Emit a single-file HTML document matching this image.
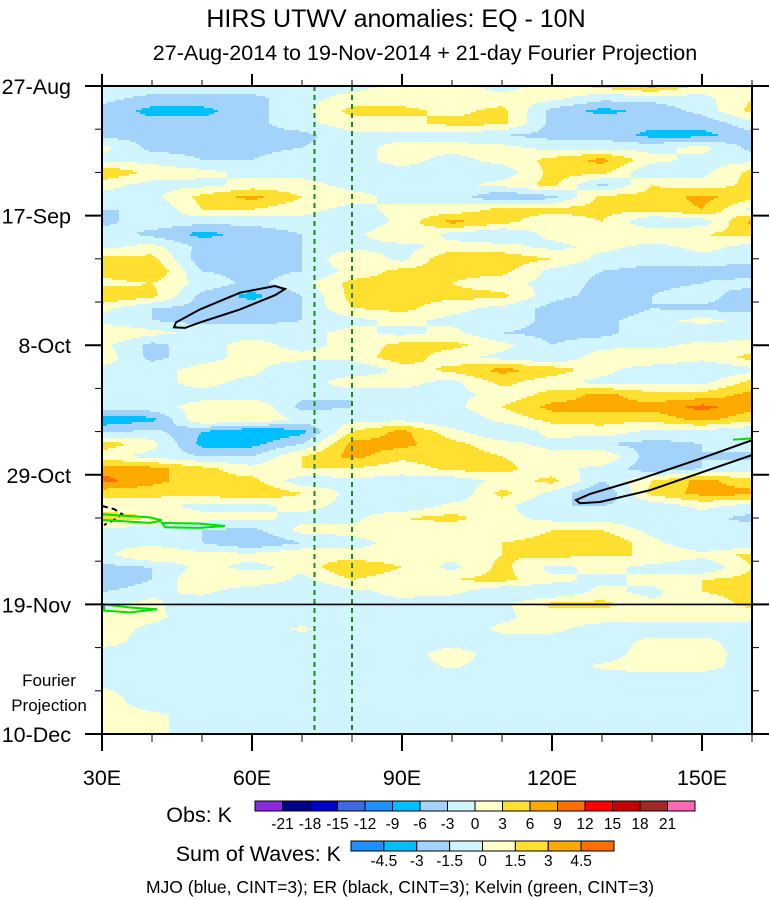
<!DOCTYPE html>
<html><head><meta charset="utf-8"><style>
html,body{margin:0;padding:0;background:#fff;}
svg{display:block;font-family:"Liberation Sans",sans-serif;}
</style></head><body>
<svg id="chart" width="770" height="900" viewBox="0 0 770 900">
<text x="396" y="27" font-size="25" text-anchor="middle">HIRS UTWV anomalies: EQ - 10N</text>
<text x="425" y="60" font-size="21.5" text-anchor="middle">27-Aug-2014 to 19-Nov-2014 + 21-day Fourier Projection</text>
<g id="field"></g>
<g id="overlays"></g>
<g id="axes"></g>
<g id="legend"></g>
<text x="400" y="893" font-size="17.5" text-anchor="middle">MJO (blue, CINT=3); ER (black, CINT=3); Kelvin (green, CINT=3)</text>
</svg>
<script>
const lons=[30,40,50,60,70,80,90,100,110,120,130,140,150,160];
const days=[];for(let i=0;i<=104;i+=2)days.push(i);
const anom=[
[-1,-1,-1,-1,-1,-1,1,1,-1,1,4,7,2,-1],
[-2,-4,-4,-4,-1,1,1,1,1,1,-2,-2,-1,3],
[-4,-7,-7,-4,-1,4,4,2,4,-4,-7,-5,-2,4],
[-4,-5,-5,-4,-1,2,2,4,4,-4,-4,-5,-5,-1],
[-4,-4,-4,-4,-4,-1,-1,-1,-3,-4,-4,-7,-7,-4],
[1,-4,-4,-4,-3,-1,1,1,1,-1,-1,-1,1,-4],
[-1,-1,-3,-3,-1,-1,1,-1,1,4,7,1,-1,-1],
[6,2,1,-1,-1,-1,-1,-1,-2,4,4,-3,-1,4],
[1,-1,-1,1,1,-1,-1,-1,1,4,-4,3,1,4],
[-1,-1,4,7,3,1,-1,-1,-6,-4,4,4,7,4],
[-3,-3,3,3,1,-1,1,1,4,4,4,4,6,-1],
[-4,-1,-2,-2,-1,-3,1,7,4,1,3,-3,-2,7],
[-1,-4,-7,-5,-3,-1,3,-1,-3,1,3,3,3,4],
[-1,1,-4,-4,-3,-1,-1,1,1,-1,1,-1,1,-1],
[4,4,-5,-4,-3,3,-1,6,5,3,-1,-2,-1,-1],
[4,6,-3,-4,-3,1,4,4,4,-1,-3,-4,-4,-6],
[2,3,-1,-4,-1,4,4,3,1,-1,-4,-4,-3,-1],
[6,4,-4,-7,-3,4,4,4,4,-2,-4,-3,-1,-6],
[1,-3,-4,-4,-3,3,4,1,-1,-4,-6,-3,-4,-4],
[-1,-3,-4,-4,-3,-1,1,-1,-1,-4,-4,-1,1,-1],
[3,1,-1,-1,-1,1,-1,1,-3,-4,-4,-1,-3,-1],
[1,-4,-1,1,-1,1,4,4,1,-3,-1,-1,1,1],
[2,-4,-1,1,1,1,5,1,-1,-3,2,3,1,4],
[-1,-1,1,1,-3,-3,1,4,7,5,1,-2,-3,-1],
[-3,-1,1,-1,-3,3,1,-1,4,1,-1,-1,-1,4],
[-3,-1,-1,-2,-2,-3,-1,-1,1,4,7,4,4,7],
[-1,-1,1,3,-4,-3,-2,-1,3,7,7,7,10,7],
[-8,-7,3,3,-1,-1,-1,-3,1,4,4,4,7,4],
[-4,-2,-6,-9,-7,3,7,1,-3,1,2,-1,-1,-3],
[5,1,-7,-7,-3,7,7,4,1,-1,-3,-4,-3,-1],
[1,-1,-3,-3,3,7,4,5,3,1,3,-5,-3,-4],
[8,7,4,1,3,3,1,4,4,1,-1,-5,-3,-1],
[10,7,4,4,-2,-1,-1,-2,1,4,-3,3,7,4],
[4,4,4,6,3,-1,-3,-3,4,-1,-6,4,7,7],
[1,1,-1,-1,1,-1,-3,1,1,-3,-3,-2,1,-1],
[5,3,1,1,-1,-1,3,4,1,-1,-1,-3,-2,-4],
[-1,-2,-3,-4,1,1,1,1,1,3,3,-1,-3,-1],
[-1,-1,-3,-6,-3,-1,1,1,3,4,6,1,-3,-3],
[-1,3,1,1,3,1,1,1,3,4,3,3,1,4],
[-4,-3,1,-1,1,6,3,-1,4,-1,1,-1,-3,3],
[-6,-3,3,3,-1,3,1,3,4,1,-1,1,3,4],
[-3,-1,1,-3,-3,-1,1,1,-3,-3,1,-1,3,4],
[-1,1,-3,-3,-3,-1,-1,-3,-1,4,4,1,1,4],
[1,0.5,-1,-1,-1,-1,-1,-1,-0.5,1,1,1,1,0.5],
[1,-0.5,-1,-1,0.3,-1,-1,-1.5,0.5,0.5,-1,-1,-1,-1],
[1,-1,-1,-1,-1,-1,-1,-1,-1,-1,-1,0.5,0.5,-1],
[-1,-1,-1,-1,-1,-1,-1,1,-1,-1,-1,1,1,-1],
[-1,-1,-1,-1,-1,-1,-1,0.3,-1,-1,0.3,1,0.8,-1],
[-1,-1,-1,-1,-1,-1,-1,-1,-1,-1,-1,-1,-1,-1],
[0.3,-1,-1,-1,-1,-1,-1,-1,-1,-1,-1,-1,-1,-1],
[1,-1,-1,-1,-1,-1,-1,-1,-1,-1,-1,-1,-1,-2.5],
[1,0.5,-1,-1,-1,-1,-1,-1,-1,-1,-1,-1,-1,-1],
[1,0.5,-1,-1,-1,-1,-1,-1,-1,-1,-1,-1,-1,-1]
];
const obsColors=["#8a2be2","#00008b","#0000cd","#4169e1","#1e90ff","#00bfff","#a3d3fa","#d0f5ff","#ffffcc","#ffe030","#ffaa00","#ff6e00","#ff0000","#c80000","#a02828","#ff69b4"];
const obsTicks=["-21","-18","-15","-12","-9","-6","-3","0","3","6","9","12","15","18","21"];
const waveColors=["#1e90ff","#00bfff","#a3d3fa","#d0f5ff","#ffffcc","#ffe030","#ffaa00","#ff6e00"];
const waveTicks=["-4.5","-3","-1.5","0","1.5","3","4.5"];
const dateLabels=["27-Aug","17-Sep","8-Oct","29-Oct","19-Nov","10-Dec"];
const dateDays=[0,21,42,63,84,105];
const lonLabels=["30E","60E","90E","120E","150E"];
const lonTicks=[30,60,90,120,150];
const erContour1=[[44.4,39.1],[44.8,38.3],[49.6,36.2],[57.6,33.5],[64.6,32.4],[66.6,32.9],[64.6,33.9],[57.6,36.2],[49.6,38.3],[46.6,39.2],[44.4,39.1]];
const erContour2=[[160,57.4],[149.6,60.4],[137.6,63.7],[127.6,66.1],[124.8,67.1],[125.6,67.6],[129.6,67.4],[139.6,65.5],[149.6,62.7],[160,59.8]];
const kelvin1=[[30,69.4],[39.6,69.9],[42,70.4],[39.6,70.8],[30,70.3]];
const kelvin2=[[42,70.8],[49.6,70.9],[54.6,71.3],[49.6,71.6],[42.6,71.5]];
const kelvin3=[[30.4,84],[35.6,84.5],[41,84.8],[35.6,85.3],[30.4,85]];
const kelvin4=[[156.2,57.3],[160,57.1]];

const NS="http://www.w3.org/2000/svg";
const X0=102,X1=752,Y0=86,Y1=734;
function xS(lon){return X0+(lon-30)*(X1-X0)/130;}
function yS(d){return Y0+d*(Y1-Y0)/105;}
function mk(tag,attrs,parent){const e=document.createElementNS(NS,tag);for(const k in attrs)e.setAttribute(k,attrs[k]);parent.appendChild(e);return e;}
function valAt(lon,d){
  let fi=(lon-lons[0])/(lons[1]-lons[0]);fi=Math.max(0,Math.min(lons.length-1.0001,fi));
  let fj=(d-days[0])/(days[1]-days[0]);fj=Math.max(0,Math.min(days.length-1.0001,fj));
  const i=Math.floor(fi),j=Math.floor(fj),a=fi-i,b=fj-j;
  const v00=anom[j][i],v01=anom[j][i+1],v10=anom[j+1][i],v11=anom[j+1][i+1];
  return (v00*(1-a)+v01*a)*(1-b)+(v10*(1-a)+v11*a)*b;
}
function lvl(v){return Math.max(0,Math.min(15,Math.floor(v/3)+8));}
const field=document.getElementById('field');
for(let py=Y0;py<Y1;py+=2){
  const d=(py+1-Y0)*105/(Y1-Y0);
  let start=X0,cur=-1;
  for(let px=X0;px<=X1;px++){
    const li=px<X1?lvl(valAt(30+(px+0.5-X0)/5,d)):-2;
    if(li!==cur){
      if(cur>=0){const r=mk('rect',{x:start,y:py,width:px-start+0.6,height:2.6,fill:obsColors[cur]},field);
        
        }
      start=px;cur=li;
    }
  }
}
const ov=document.getElementById('overlays');
function pathOf(pts,close){return pts.map((p,k)=>(k?'L':'M')+xS(p[0]).toFixed(1)+','+yS(p[1]).toFixed(1)).join(' ')+(close?' Z':'');}
let e;
e=mk('line',{x1:xS(72.5),y1:Y0,x2:xS(72.5),y2:Y1,stroke:'#1a8a1a','stroke-width':2,'stroke-dasharray':'5,4'},ov);

e=mk('line',{x1:xS(80),y1:Y0,x2:xS(80),y2:Y1,stroke:'#1a8a1a','stroke-width':2,'stroke-dasharray':'5,4'},ov);

e=mk('path',{d:pathOf(erContour1,true),fill:'none',stroke:'#000','stroke-width':2},ov);

e=mk('path',{d:pathOf(erContour2,false),fill:'none',stroke:'#000','stroke-width':2},ov);

e=mk('path',{d:'M102,506 L114,509 L122,514 L114,520 L104,525',fill:'none',stroke:'#000','stroke-width':2,'stroke-dasharray':'6,4'},ov);

[kelvin1,kelvin2,kelvin3,kelvin4].forEach((k,n)=>{
  e=mk('path',{d:pathOf(k,n<3),fill:'none',stroke:'#00e000','stroke-width':2},ov);
  
});
e=mk('line',{x1:X0,y1:yS(84),x2:X1+16,y2:yS(84),stroke:'#000','stroke-width':1.6},ov);


const ax=document.getElementById('axes');
e=mk('rect',{x:X0,y:Y0,width:X1-X0,height:Y1-Y0,fill:'none',stroke:'#000','stroke-width':2},ax);

for(let lon=30;lon<=160;lon+=10){
  const maj=lonTicks.includes(lon),L=maj?17:8,x=xS(lon);
  e=mk('line',{x1:x,y1:Y1,x2:x,y2:Y1+L,stroke:'#000','stroke-width':maj?2:1},ax);
  
  e=mk('line',{x1:x,y1:Y0,x2:x,y2:Y0-(maj?12:6),stroke:'#000','stroke-width':maj?2:1},ax);
  
}
lonTicks.forEach((lon,i)=>{
  e=mk('text',{x:xS(lon),y:785,'font-size':21.5,'text-anchor':'middle'},ax);e.textContent=lonLabels[i];
  
});
for(let d=0;d<=105;d+=7){
  const maj=dateDays.includes(d),L=maj?17:7,y=yS(d);
  e=mk('line',{x1:X0,y1:y,x2:X0-L,y2:y,stroke:'#000','stroke-width':maj?2:1},ax);
  
  e=mk('line',{x1:X1,y1:y,x2:X1+L,y2:y,stroke:'#000','stroke-width':maj?2:1},ax);
  
}
dateDays.forEach((d,i)=>{
  e=mk('text',{x:71,y:yS(d)+8,'font-size':21.5,'text-anchor':'end'},ax);e.textContent=dateLabels[i];
  
});
e=mk('text',{x:49,y:686,'font-size':17,'text-anchor':'middle'},ax);e.textContent='Fourier';

e=mk('text',{x:49,y:711,'font-size':17,'text-anchor':'middle'},ax);e.textContent='Projection';


const lg=document.getElementById('legend');
const ox=255,ow=440/obsColors.length;
obsColors.forEach((c,i)=>{
  e=mk('rect',{x:ox+i*ow,y:801,width:ow,height:10,fill:c,stroke:'#000','stroke-width':1},lg);
  
});
obsTicks.forEach((t,i)=>{
  e=mk('text',{x:ox+(i+1)*ow,y:829,'font-size':15.5,'text-anchor':'middle'},lg);e.textContent=t;
  
});
e=mk('text',{x:232,y:822,'font-size':21.5,'text-anchor':'end'},lg);e.textContent='Obs: K';

const wx=351,ww=263/waveColors.length;
waveColors.forEach((c,i)=>{
  e=mk('rect',{x:wx+i*ww,y:841,width:ww,height:10,fill:c,stroke:'#000','stroke-width':1},lg);
  
});
waveTicks.forEach((t,i)=>{
  e=mk('text',{x:wx+(i+1)*ww,y:866,'font-size':15.5,'text-anchor':'middle'},lg);e.textContent=t;
  
});
e=mk('text',{x:341,y:861,'font-size':21.5,'text-anchor':'end'},lg);e.textContent='Sum of Waves: K';

</script>
</body></html>
